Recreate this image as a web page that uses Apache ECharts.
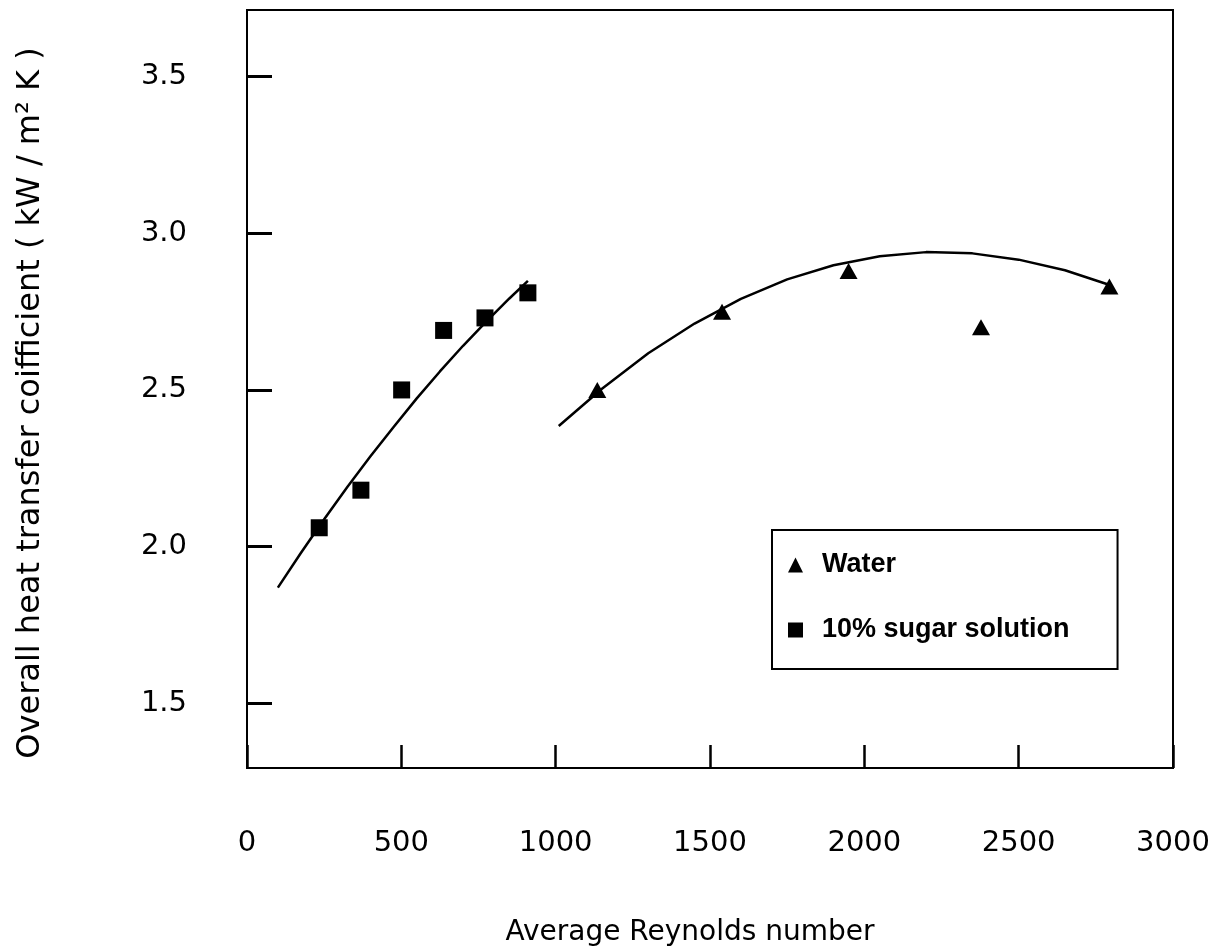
<!DOCTYPE html>
<html>
<head>
<meta charset="utf-8">
<script src="https://cdn.jsdelivr.net/npm/echarts@6/dist/echarts.min.js"></script>
<style>
html,body{margin:0;padding:0;background:#fff;}
#chart{width:1220px;height:952px;}
</style>
</head>
<body>
<div id="chart"></div>
<script>
// Data
const sugarRe = [234, 369, 501, 637, 771, 910];
const sugarU  = [2.06, 2.18, 2.50, 2.69, 2.73, 2.81];
const waterRe = [1135, 1539, 1949, 2378, 2794];
const waterU  = [2.50, 2.75, 2.88, 2.70, 2.83];
// Fitted trend curves
const sugarFitRe = [100, 175, 250, 325, 400, 475, 550, 625, 700, 775, 850, 910];
const sugarFitU  = [1.869, 1.980, 2.087, 2.190, 2.288, 2.382, 2.473, 2.559, 2.641, 2.718, 2.792, 2.848];
const waterFitRe = [1010, 1150, 1300, 1450, 1600, 1750, 1900, 2050, 2200, 2350, 2500, 2650, 2795];
const waterFitU  = [2.385, 2.504, 2.617, 2.712, 2.791, 2.853, 2.898, 2.927, 2.940, 2.936, 2.916, 2.882, 2.835];
// Tick labels
const xTicks = [0, 500, 1000, 1500, 2000, 2500, 3000];
const yTicks = [1.5, 2.0, 2.5, 3.0, 3.5];

const zip = (a, b) => a.map((v, i) => [v, b[i]]);
const FONT = 'DejaVu Sans';

const chart = echarts.init(document.getElementById('chart'), null, {renderer: 'canvas'});
chart.setOption({
  backgroundColor: '#fff',
  animation: false,
  grid: {
    left: 247, right: 47, top: 10, bottom: 182,
    show: true, borderColor: '#000', borderWidth: 2
  },
  legend: {
    left: 772, top: 530,
    orient: 'vertical',
    borderColor: '#000', borderWidth: 2,
    padding: [20, 48, 24, 16],
    itemWidth: 15, itemHeight: 15,
    itemGap: 35,
    textStyle: {fontFamily: 'Liberation Sans', fontWeight: 'bold', fontSize: 27, color: '#000', lineHeight: 30, padding: [0, 0, 0, 14]},
    data: [
      {name: 'Water', icon: 'triangle', itemStyle: {color: '#000', opacity: 1}},
      {name: '10% sugar solution', icon: 'rect', itemStyle: {color: '#000', opacity: 1}}
    ]
  },
  xAxis: {
    type: 'value', min: xTicks[0], max: xTicks[xTicks.length - 1], interval: 500,
    name: 'Average Reynolds number', nameLocation: 'middle', nameGap: 151,
    nameTextStyle: {fontFamily: FONT, fontSize: 28, color: '#000', padding: [0, 40, 0, 0]},
    axisLine: {show: true, lineStyle: {color: '#000', width: 2}},
    axisTick: {show: true, inside: true, length: 23, lineStyle: {color: '#000', width: 2.5}},
    axisLabel: {margin: 61, fontFamily: FONT, fontSize: 29, color: '#000', customValues: xTicks,
      formatter: v => String(v)},
    splitLine: {show: false}
  },
  yAxis: {
    type: 'value', min: 1.293, max: 3.713,
    name: 'Overall heat transfer coifficient ( kW / m² K )', nameLocation: 'middle', nameGap: 200,
    nameTextStyle: {fontFamily: FONT, fontSize: 32, color: '#000', padding: [0, 28, 0, 0]},
    axisLine: {show: true, lineStyle: {color: '#000', width: 2}},
    axisTick: {show: true, inside: true, length: 25, lineStyle: {color: '#000', width: 3}, customValues: yTicks},
    axisLabel: {margin: 60, fontFamily: FONT, fontSize: 29, color: '#000', customValues: yTicks,
      formatter: v => v.toFixed(1)},
    splitLine: {show: false}
  },
  series: [
    {
      name: 'Water', type: 'scatter', symbol: 'triangle', symbolSize: [18, 16],
      itemStyle: {color: '#000', opacity: 1}, data: zip(waterRe, waterU), z: 3
    },
    {
      name: '10% sugar solution', type: 'scatter', symbol: 'rect', symbolSize: 17,
      itemStyle: {color: '#000', opacity: 1}, data: zip(sugarRe, sugarU), z: 3
    },
    {
      name: 'sugar fit', type: 'line', smooth: false, showSymbol: false,
      lineStyle: {color: '#000', width: 2.5, join: 'round'}, data: zip(sugarFitRe, sugarFitU), z: 2
    },
    {
      name: 'water fit', type: 'line', smooth: false, showSymbol: false,
      lineStyle: {color: '#000', width: 2.5, join: 'round'}, data: zip(waterFitRe, waterFitU), z: 2
    }
  ]
});
</script>
</body>
</html>
